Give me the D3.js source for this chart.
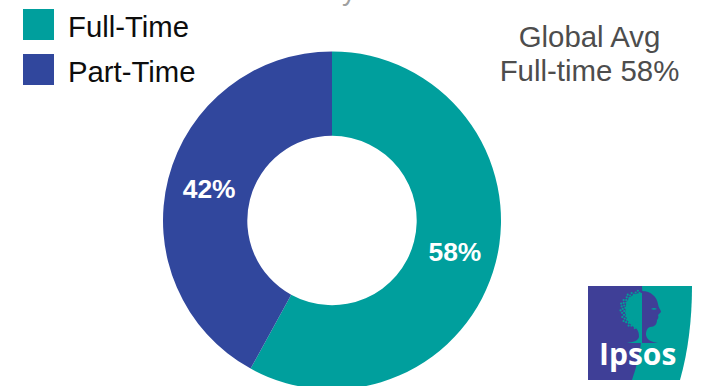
<!DOCTYPE html>
<html>
<head>
<meta charset="utf-8">
<script src="https://cdn.jsdelivr.net/npm/d3@7/dist/d3.min.js"></script>
<style>
html, body { margin: 0; padding: 0; background: #fff; overflow: hidden; }
svg { display: block; font-family: "Liberation Sans", Arial, sans-serif; }
</style>
</head>
<body>
<script>
// Employment split shown on the donut
const categories = ["Full-Time", "Part-Time"];
const shares = [58, 42];
const palette = ["#009f9d", "#31479d"];
const noteLines = ["Global Avg", "Full-time 58%"];
const headline = "Work status in a survey";

const width = 705, height = 386;
const cx = 332, cy = 220.5, outer = 169, inner = 84.7;

const svg = d3.select("body").append("svg")
  .attr("width", width).attr("height", height)
  .attr("viewBox", [0, 0, width, height]);

// Headline runs off the top edge of the slide
svg.append("text")
  .attr("x", 356).attr("y", 0.2)
  .attr("text-anchor", "end")
  .attr("font-size", 28)
  .attr("fill", "#a0a0a0")
  .text(headline);

// Legend
const legendY = d3.scalePoint().domain(categories).range([9, 54]);
const legend = svg.append("g").selectAll("g").data(categories).join("g")
  .attr("transform", d => `translate(23,${legendY(d)})`);
legend.append("rect")
  .attr("width", 31).attr("height", 31)
  .attr("fill", (d, i) => palette[i]);
legend.append("text")
  .attr("x", 45).attr("y", 28)
  .attr("font-size", 29.3)
  .attr("fill", "#0d0d0d")
  .text(d => d);

// Donut
const pie = d3.pie().sort(null)(shares);
const arc = d3.arc().innerRadius(inner).outerRadius(outer);
const ring = svg.append("g").attr("transform", `translate(${cx},${cy})`);
ring.selectAll("path").data(pie).join("path")
  .attr("d", arc)
  .attr("fill", (d, i) => palette[i]);
ring.selectAll("text").data(pie).join("text")
  .attr("transform", d => `translate(${arc.centroid(d)})`)
  .attr("y", 9)
  .attr("text-anchor", "middle")
  .attr("font-size", 26.4)
  .attr("font-weight", 700)
  .attr("fill", "#fff")
  .text(d => d.value + "%");

// Global average note
svg.append("g").selectAll("text").data(noteLines).join("text")
  .attr("x", 589.5)
  .attr("y", (d, i) => 47 + i * 34)
  .attr("text-anchor", "middle")
  .attr("font-size", 29.4)
  .attr("fill", "#4d4d4d")
  .text(d => d);

// Ipsos logo: two-tone shield, tree-and-profile emblem, white wordmark
const logo = svg.append("g");
const brandPurple = "#3f3f97", brandTeal = "#009f9a";
logo.append("path")
  .attr("d", "M588,286 H692 C692,320 688,352 680,380 H588 Z")
  .attr("fill", brandTeal);
logo.append("path")
  .attr("d", "M588,286 H642 C645,320 642,352 632,380 H588 Z")
  .attr("fill", brandPurple);

// Tree crown: solid mass with teal dots scattered on a spiral around its rim
logo.append("path")
  .attr("d", "M642,293 C633,293 627,298 626,305 C624,314 627,323 634,327 C638,329 639,332 639,337 C638,341 633,342 627,343 H642 Z")
  .attr("fill", brandTeal);
const crown = logo.append("g").attr("fill", brandTeal);
d3.range(60, 170).forEach(i => {
  const r = 20 * Math.sqrt(i / 170);
  const a = i * 2.39996;
  const x = 640 + r * Math.cos(a);
  const y = 310 + r * Math.sin(a);
  if (x < 641) {
    crown.append("circle").attr("cx", x).attr("cy", y).attr("r", 1.1);
  }
});
// Profile of the head on the teal side
logo.append("path")
  .attr("d", "M642,291 C651,291 657,297 658,304 C658,307 661,310 661,312 C660,313 659,314 658,315 C659,317 658,319 657,320 C657,324 655,327 650,327 C647,328 646,331 646,335 C647,340 651,342 658,343 H642 Z")
  .attr("fill", brandPurple);
logo.append("path")
  .attr("d", "M651,309 Q654,307 657,309 Q654,310.5 651,309 Z")
  .attr("fill", brandTeal);

logo.append("text")
  .attr("x", 599).attr("y", 365)
  .attr("font-family", "'Open Sans', sans-serif")
  .attr("font-size", 30)
  .attr("font-weight", 700)
  .attr("fill", "#fff")
  .text("Ipsos");
</script>
</body>
</html>
